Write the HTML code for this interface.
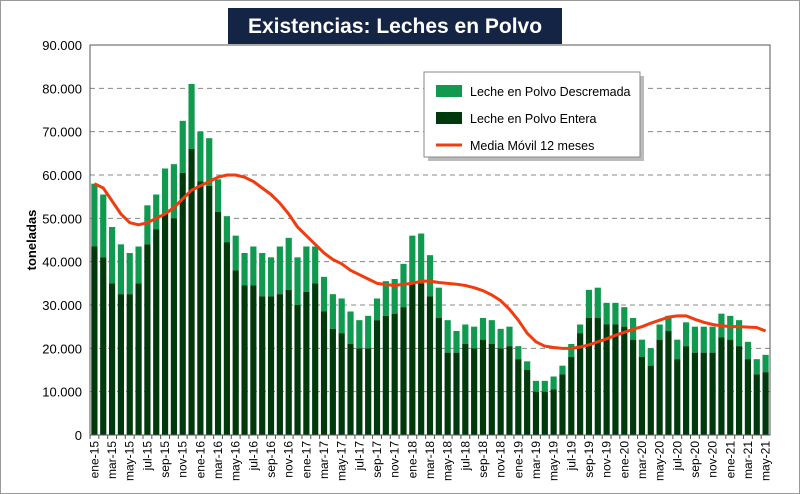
<!DOCTYPE html>
<html><head><meta charset="utf-8"><style>
body{margin:0;background:#fff;}
svg{display:block;font-family:"Liberation Sans",sans-serif;}
</style></head><body>
<svg id="c" width="800" height="494">
<rect x="0.5" y="0.5" width="799" height="493" fill="#fff" stroke="#999"/>
<rect x="228" y="8" width="334" height="36" fill="#142445"/>
<text x="395" y="33" text-anchor="middle" fill="#fff" font-size="21" font-weight="bold">Existencias: Leches en Polvo</text>
<text transform="translate(36,240) rotate(-90)" text-anchor="middle" font-size="13" font-weight="bold">toneladas</text>
<g id="grid"></g><g id="bars"></g><g id="line"></g><g id="axes"></g>
<g>
<rect x="428" y="76" width="216" height="85" fill="#bbb"/>
<rect x="424" y="72" width="216" height="85" fill="#fff" stroke="#888"/>
<rect x="436" y="85" width="26" height="12" fill="#0f9a4f"/>
<text x="470" y="96" font-size="12.5">Leche en Polvo Descremada</text>
<rect x="436" y="112" width="26" height="12" fill="#003a0c"/>
<text x="470" y="123" font-size="12.5">Leche en Polvo Entera</text>
<line x1="436" y1="145" x2="462" y2="145" stroke="#f03c0f" stroke-width="3"/>
<text x="470" y="150" font-size="12.5">Media Móvil 12 meses</text>
</g>
</svg>
<script>
const months=["ene","feb","mar","abr","may","jun","jul","ago","sep","oct","nov","dic"];
const totals=[58,55.5,48,44,42,43.5,53,55.5,61.5,62.5,72.5,81,
70,68.5,59,50.5,46,42,43.5,42,41,43.5,45.5,41,
43.5,43.5,36.5,32.5,31.5,28.5,26.5,27.5,31.5,35.5,36,39.5,
46,46.5,41.5,34,26.5,24,25.5,25,27,26.5,24.5,25,
20.5,17,12.5,12.5,13.5,16,21,25.5,33.5,34,30.5,30.5,
29.5,27,22,20,25.5,27.5,22,26,25,25,25,28,
27.5,26.5,21.5,17.5,18.5];
const entera=[43.5,41,35,32.5,32.5,35,44,47.5,51,50,60.5,66,
58.5,57.5,51.5,44.5,38,34.5,34.5,32,32,32.5,33.5,30,
33,35,28.5,24.5,23.5,21,20,20,26.5,27.5,28,29.5,
35,35,32,27,19,19,21,20,22,21,20,20.5,
17.5,15,10,10,10.5,14,18,23.5,27,27,25.5,25.5,
25,22,18,16,22,24,17.5,20.5,19,19,19,22.5,
22,20.5,17.5,14,14.5];
const media=[58,57,54,51,49,48.5,49,50,51,52.5,54.5,56.5,
57.5,58.5,59.5,60,60,59.5,58.5,57,55.5,53.5,51,48,
46,44,42,40.5,39.5,38,37,36,35,34.7,34.5,34.8,
35,35.5,35.5,35.2,35,34.8,34.5,34,33.3,32.3,31,29,
26.5,23.5,21.5,20.5,20.2,20,20,20.3,20.8,21.5,22.2,23,
23.7,24.4,25,25.8,26.5,27.2,27.5,27.5,26.7,26,25.5,25.2,
25,25,24.9,24.8,24];
const yTicks=[0,10,20,30,40,50,60,70,80,90];
const NS="http://www.w3.org/2000/svg";
const X0=90,X1=770,Y0=435,Y1=45,n=totals.length,slot=(X1-X0)/n;
const y=v=>Y0-(v/90)*(Y0-Y1);
const xc=i=>X0+slot*(i+0.5);
function mk(t,a,p){const e=document.createElementNS(NS,t);for(const k in a)e.setAttribute(k,a[k]);p.appendChild(e);return e;}
const grid=document.getElementById('grid'),bars=document.getElementById('bars'),axes=document.getElementById('axes');
yTicks.forEach(t=>{
 if(t>0){const g=mk('line',{x1:X0,x2:X1,y1:y(t),y2:y(t),stroke:'#888','stroke-dasharray':'5,4'},grid);
 
 }
 const tx=mk('text',{x:X0-8,y:y(t)+5,'text-anchor':'end','font-size':'13'},axes);
 tx.textContent=t===0?'0':t+'.000';
 
 
});
mk('rect',{x:X0,y:Y1,width:X1-X0,height:Y0-Y1,fill:'none',stroke:'#555'},axes);
const bw=slot*0.7;
for(let i=0;i<n;i++){
 const a=mk('rect',{x:xc(i)-bw/2,y:y(totals[i]),width:bw,height:y(entera[i])-y(totals[i]),fill:'#0f9a4f'},bars);
 
 
 const b=mk('rect',{x:xc(i)-bw/2,y:y(entera[i]),width:bw,height:Y0-y(entera[i]),fill:'#003a0c'},bars);
 
 
 mk('line',{x1:X0+slot*i,x2:X0+slot*i,y1:Y0,y2:Y0+4,stroke:'#555'},axes);
 if(i%2===0){
  const lbl=months[i%12]+'-'+(15+Math.floor(i/12));
  const t=mk('text',{transform:`translate(${xc(i)+4},${Y0+6}) rotate(-90)`,'text-anchor':'end','font-size':'12'},axes);
  t.textContent=lbl;
  
  
 }
}
const p=mk('polyline',{points:media.map((v,i)=>xc(i)+','+y(v)).join(' '),fill:'none',stroke:'#f03c0f','stroke-width':3,'stroke-linejoin':'round'},document.getElementById('line'));


</script>
</body></html>
